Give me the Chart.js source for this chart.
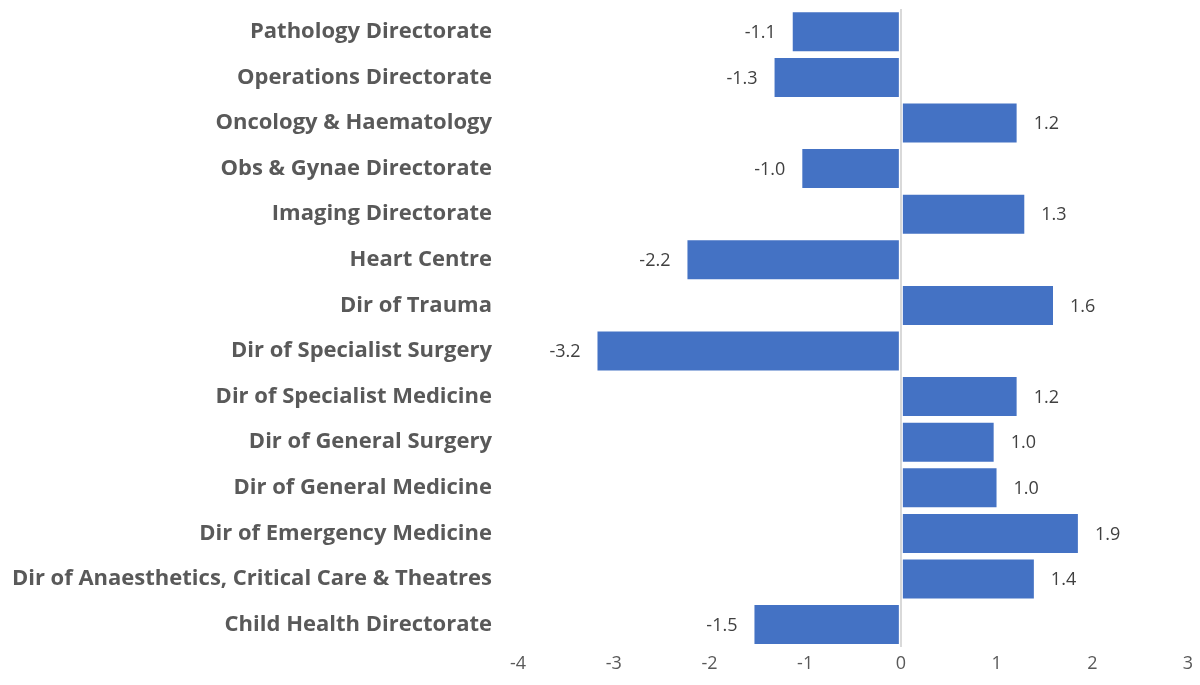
<!DOCTYPE html>
<html>
<head>
<meta charset="utf-8">
<script src="https://cdn.jsdelivr.net/npm/chart.js@4"></script>
<style>
  html, body { margin: 0; padding: 0; background: #ffffff; }
  #wrap { width: 1200px; height: 685px; }
</style>
</head>
<body>
<div id="wrap"><canvas id="grafica" width="1200" height="685"></canvas></div>
<script>
// datos
const categorias = [
    'Pathology Directorate', 'Operations Directorate', 'Oncology & Haematology',
    'Obs & Gynae Directorate', 'Imaging Directorate', 'Heart Centre', 'Dir of Trauma',
    'Dir of Specialist Surgery', 'Dir of Specialist Medicine', 'Dir of General Surgery',
    'Dir of General Medicine', 'Dir of Emergency Medicine',
    'Dir of Anaesthetics, Critical Care & Theatres', 'Child Health Directorate'
];
const valores = [-1.14, -1.33, 1.22, -1.04, 1.30, -2.24, 1.60, -3.18, 1.22, 0.98, 1.01, 1.86, 1.40, -1.54];
const ticksX = [-4, -3, -2, -1, 0, 1, 2, 3];

// etiquetas de valor al final de cada barra
const etiquetasValor = {
    id: 'etiquetasValor',
    afterDatasetsDraw(chart) {
        const ctx = chart.ctx;
        const meta = chart.getDatasetMeta(0);
        ctx.save();
        ctx.font = '18px "Open Sans", sans-serif';
        ctx.fillStyle = '#404040';
        ctx.textBaseline = 'middle';
        meta.data.forEach((bar, i) => {
            const v = valores[i];
            const txt = v.toFixed(1);
            if (v >= 0) {
                ctx.textAlign = 'left';
                ctx.fillText(txt, bar.x + 16, bar.y + 1);
            } else {
                ctx.textAlign = 'right';
                ctx.fillText(txt, bar.x - 16, bar.y + 1);
            }
        });
        ctx.restore();
    }
};

document.addEventListener('DOMContentLoaded', () => {
    try {
        const ctx = document.getElementById('grafica').getContext('2d');
        new Chart(ctx, {
            type: 'bar',
            data: {
                labels: categorias,
                datasets: [{
                    data: valores,
                    backgroundColor: '#4472C4',
                    borderColor: 'rgba(255,255,255,0.6)',
                    borderWidth: 1,
                    borderSkipped: false,
                    barPercentage: 0.9,
                    categoryPercentage: 1.0
                }]
            },
            options: {
                indexAxis: 'y',
                responsive: false,
                animation: false,
                layout: { padding: { top: 9, right: 12, bottom: 4, left: 0 } },
                scales: {
                    x: {
                        min: -4,
                        max: 3,
                        afterBuildTicks: (scale) => { scale.ticks = ticksX.map(v => ({ value: v })); },
                        grid: {
                            drawTicks: false,
                            color: (c) => (c.tick && c.tick.value === 0) ? '#d9d9d9' : 'rgba(0,0,0,0)',
                            lineWidth: 2
                        },
                        border: { display: false },
                        ticks: {
                            padding: 6,
                            color: '#595959',
                            font: { family: "'Open Sans', sans-serif", size: 18 }
                        }
                    },
                    y: {
                        // ancho fijo del eje y sin relleno extra arriba/abajo
                        afterFit: (scale) => {
                            scale.width = 518;
                            scale.paddingTop = 0;
                            scale.paddingBottom = 0;
                        },
                        grid: { display: false, drawTicks: false },
                        border: { display: false },
                        ticks: {
                            padding: 26,
                            color: '#595959',
                            font: { family: "'Open Sans', sans-serif", size: 22, weight: 'bold' }
                        }
                    }
                },
                plugins: {
                    legend: { display: false },
                    tooltip: { enabled: false }
                }
            },
            plugins: [etiquetasValor]
        });
    } catch (e) {
        console.error('Error al crear la gráfica:', e);
    }
});
</script>
</body>
</html>
